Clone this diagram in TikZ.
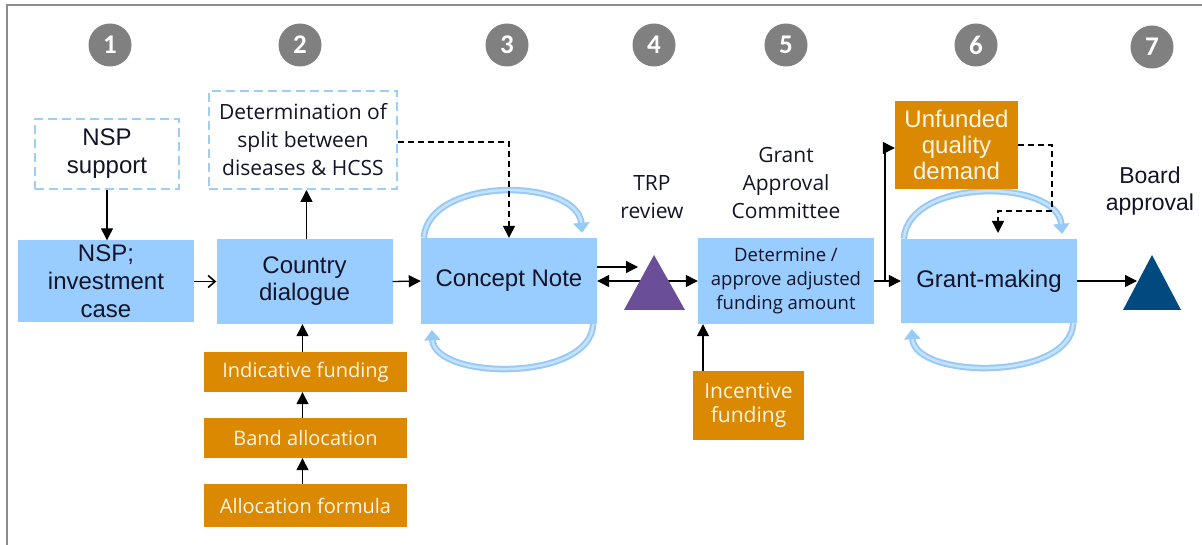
\documentclass[tikz,border=0pt]{standalone}
\usepackage{fontspec}
\setmainfont{Liberation Sans}
\newfontfamily\segoe{Open Sans}
\newfontfamily\numfont{Carlito}
\usetikzlibrary{arrows.meta}
\definecolor{boxblue}{RGB}{153,204,255}
\definecolor{dashblue}{RGB}{157,206,250}
\definecolor{orangebox}{RGB}{218,137,0}
\definecolor{orangetxt}{RGB}{255,246,232}
\definecolor{circgray}{RGB}{128,128,128}
\definecolor{trpcol}{RGB}{106,78,152}
\definecolor{boardcol}{RGB}{0,74,128}
\definecolor{loopblue}{RGB}{150,202,248}
\definecolor{looppale}{RGB}{200,226,250}
\definecolor{framegray}{RGB}{140,140,140}
\definecolor{txtdark}{RGB}{20,20,40}
\newcommand\bigtxt{\fontsize{24pt}{28pt}\selectfont}
\newcommand\lbltxt{\fontsize{21pt}{28pt}\selectfont}
\newcommand\dettxt{\fontsize{18.5pt}{24pt}\selectfont}
\newcommand\orgtxt{\fontsize{20pt}{24pt}\selectfont}
\newcommand\numtxt{\fontsize{27pt}{27pt}\selectfont}
\begin{document}
\begin{tikzpicture}[x=1pt,y=-1pt,
  bbox/.style={rectangle, fill=boxblue, inner sep=0pt, align=center, text=txtdark, font=\bigtxt, minimum width=176pt},
  dbox/.style={rectangle, draw=dashblue, line width=2pt, dash pattern=on 9pt off 5pt, fill=white, inner sep=0pt, align=center, text=txtdark, font=\bigtxt},
  obox/.style={rectangle, fill=orangebox, inner sep=0pt, align=center, text=orangetxt, font=\segoe\orgtxt},
  lbl/.style={inner sep=0pt, align=center, text=txtdark, font=\segoe\lbltxt},
  numc/.style={circle, fill=circgray, minimum size=43pt, inner sep=0pt, text=white, font=\numfont\bfseries\numtxt},
  arr/.style={line width=1.3pt, -{Triangle[length=12pt,width=12pt]}},
  dblarr/.style={line width=1.3pt, {Triangle[length=12pt,width=12pt]}-{Triangle[length=12pt,width=12pt]}},
  openarr/.style={line width=1.4pt, -{Straight Barb[length=7pt,width=12pt,line width=1.6pt]}},
  dasharr/.style={line width=1.3pt, dash pattern=on 6pt off 4pt, -{Triangle[length=12pt,width=12pt]}},
  cyclearr/.style={draw=loopblue, double=looppale, double distance=2.5pt, line width=2pt, -{Triangle[length=10pt,width=16pt]}}
]
\useasboundingbox (0,0) rectangle (1202,545);
\fill[white] (0,0) rectangle (1202,545);
\draw[framegray, line width=1.5pt] (7,545) -- (7,5) -- (1202,5);

% step numbers
\node[numc] (n1) at (110,45) {1};
\node[numc] (n2) at (300,45) {2};
\node[numc] (n3) at (507,45) {3};
\node[numc] (n4) at (654,45) {4};
\node[numc] (n5) at (786,45) {5};
\node[numc] (n6) at (976,45) {6};
\node[numc] (n7) at (1152,47) {7};

% main boxes
\node[bbox, minimum height=82pt] (nsp) at (106,281.5) {NSP;\\investment\\case};
\node[bbox, minimum height=85pt, font=\fontsize{24pt}{27pt}\selectfont] (country) at (304.5,281.5) {Country\\dialogue};
\node[bbox, minimum height=86pt] (cn) at (509,281) {Concept Note};
\node[bbox, minimum height=86pt, font=\segoe\dettxt] (det) at (786,281) {Determine /\\approve adjusted\\funding amount};
\node[bbox, minimum height=84pt] (gm) at (989,281) {Grant-making};

% loops
\draw[cyclearr] ([shift={(3,0)}]cn.north west) .. controls +(5,-62) and +(-5,-55) .. ([shift={(-15,-5)}]cn.north east);
\draw[cyclearr] ([shift={(-4,0)}]cn.south east) .. controls +(-3,58) and +(3,50) .. ([shift={(11,6)}]cn.south west);
\draw[cyclearr] ([shift={(3,0)}]gm.north west) .. controls +(5,-62) and +(-5,-55) .. ([shift={(-15,-5)}]gm.north east);
\draw[cyclearr] ([shift={(-4,0)}]gm.south east) .. controls +(-3,58) and +(3,50) .. ([shift={(11,6)}]gm.south west);

% dashed boxes
\node[dbox, minimum width=144pt, minimum height=70pt] (nspsup) at (107,154) {NSP\\support};
\node[dbox, minimum width=188pt, minimum height=98pt, font=\segoe\lbltxt] (deter) at (303,140) {Determination of\\split between\\diseases \& HCSS};

% orange boxes
\node[obox, minimum width=123pt, minimum height=88pt, font=\fontsize{24pt}{26pt}\selectfont] (unf) at (956.5,145) {Unfunded\\quality\\demand};
\node[obox, minimum width=111pt, minimum height=69pt, font=\segoe\fontsize{21pt}{24pt}\selectfont] (inc) at (748.5,405.5) {Incentive\\funding};
\node[obox, minimum width=203pt, minimum height=40pt] (ind) at (305.5,372) {Indicative funding};
\node[obox, minimum width=203pt, minimum height=40pt] (band) at (305.5,438) {Band allocation};
\node[obox, minimum width=203pt, minimum height=43pt] (alloc) at (305.5,505.5) {Allocation formula};

% labels
\node[lbl] (trplbl) at (652,197) {TRP\\review};
\node[lbl] (gaclbl) at (786,183.5) {Grant\\Approval\\Committee};
\node[lbl, font=\fontsize{23pt}{27pt}\selectfont] (boardlbl) at (1150,191.5) {Board\\approval};

% connectors
\draw[arr] (nspsup.south) -- (nspsup.south |- nsp.north);
\draw[openarr] (nsp.east) -- (country.west);
\draw[arr] ([xshift=2pt]country.north) -- ([xshift=2pt]country.north |- deter.south);
\draw[dasharr] ([yshift=-2pt]deter.east) -| (cn.north);
\draw[arr] (country.east) -- (cn.west);
\coordinate (trpin) at (638,267);
\draw[arr] (cn.east |- trpin) -- (trpin);
\draw[dblarr] (cn.east) -- (det.west);
\fill[trpcol] (654,255) -- (685,310) -- (624,310) -- cycle;
\draw[arr] (det.east) -- (gm.west);
\coordinate (fork) at (885,281);
\draw[arr] (fork) |- ([yshift=-3pt]unf.west);
\coordinate (dturn) at (1052,211);
\coordinate (gmin) at (998,233);
\draw[dasharr] (unf.east) -| (dturn) -| (gmin);
\fill[boardcol] (1152,255) -- (1181,310) -- (1123,310) -- cycle;
\coordinate (boardin) at (1137,281);
\draw[arr] (gm.east) -- (boardin);
\draw[arr] ([xshift=-45.5pt]inc.north) -- ([xshift=-45.5pt]inc.north |- det.south);
\draw[arr] ([xshift=-3pt]ind.north) -- ([xshift=-3pt]ind.north |- country.south);
\draw[arr] ([xshift=-3pt]band.north) -- ([xshift=-3pt]band.north |- ind.south);
\draw[arr] ([xshift=-3pt]alloc.north) -- ([xshift=-3pt]alloc.north |- band.south);
\end{tikzpicture}
\end{document}
